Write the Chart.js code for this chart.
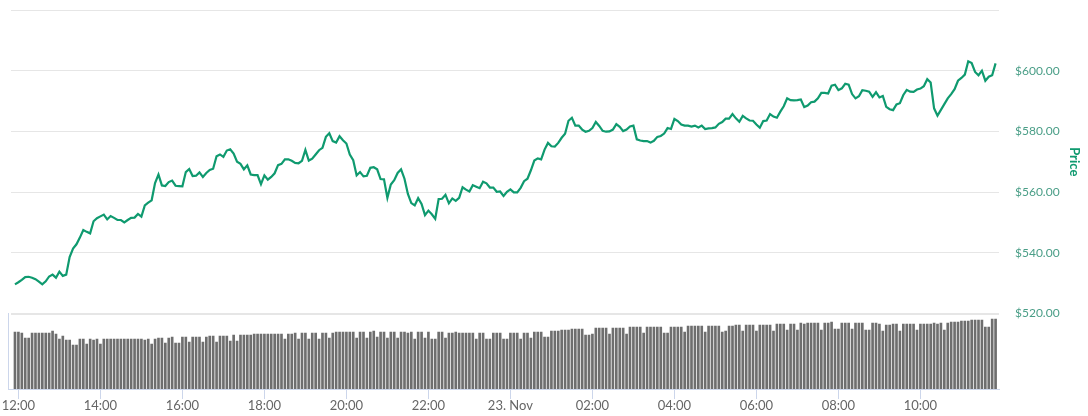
<!DOCTYPE html>
<html>
<head>
<meta charset="utf-8">
<title>Price</title>
<script src="https://cdn.jsdelivr.net/npm/chart.js@4"></script>
<style>
  html, body { margin: 0; padding: 0; background: #fff; }
  #wrap { position: relative; width: 1088px; height: 416px; overflow: hidden; }
  canvas { position: absolute; left: 0; }
  #price-chart { top: 0; }
  #volume-chart { top: 313px; }
</style>
</head>
<body>
<div id="wrap">
  <canvas id="price-chart" width="1088" height="322"></canvas>
  <canvas id="volume-chart" width="1088" height="103"></canvas>
</div>
<script>
'use strict';

// 5 minute samples, minutes counted from 12:00 on 22 Nov
const firstMinute = -5;
const stepMinutes = 5;

const priceValues = [
  529.6,530.3,531.1,532.0,532.1,531.8,531.3,530.5,529.6,530.6,532.2,532.8,531.8,533.8,532.4,532.8,
  538.6,541.4,542.8,545.0,547.5,546.9,546.4,550.4,551.4,552.0,552.6,551.0,552.1,551.5,550.8,550.8,
  550.0,550.8,551.5,551.6,552.8,551.9,555.6,556.5,557.3,563.0,565.8,562.2,562.0,563.3,563.8,562.1,562.0,
  561.9,566.6,567.6,565.3,565.4,566.5,565.0,566.3,567.3,567.7,571.8,572.4,571.6,573.7,574.1,572.7,
  570.0,569.3,567.5,568.8,565.8,565.6,565.6,562.6,565.5,564.1,565.0,566.2,568.9,569.3,570.8,570.8,
  570.3,569.6,569.5,570.3,573.9,570.4,571.0,572.4,573.8,574.6,578.2,579.4,576.8,576.3,578.4,577.1,
  576.0,572.4,570.5,565.5,566.6,565.2,565.4,568.0,568.2,567.5,564.3,564.2,558.1,562.5,563.9,566.3,
  567.5,564.4,559.4,556.4,555.6,558.0,556.1,552.4,553.9,552.7,551.2,557.7,557.8,559.1,556.3,557.9,
  557.1,558.1,561.6,560.8,560.2,562.3,561.8,561.3,563.4,562.9,561.5,561.5,560.1,560.2,558.7,560.1,560.9,
  559.9,559.9,561.4,563.6,564.4,567.2,570.4,571.1,570.8,574.0,576.2,575.1,575.0,576.2,577.9,579.2,
  583.5,584.5,581.9,581.9,580.6,579.9,580.2,581.1,583.1,581.8,580.2,579.9,580.0,580.6,582.4,581.5,
  580.1,580.6,581.6,581.9,577.4,577.0,576.8,576.8,576.3,576.9,578.2,578.5,579.3,581.1,580.8,584.1,
  583.4,582.3,581.9,581.9,581.6,581.9,581.3,581.9,580.8,581.0,581.1,581.3,582.5,583.1,584.2,584.2,
  585.7,584.3,583.2,585.1,584.3,583.6,583.5,582.3,581.2,583.4,583.6,585.7,584.9,584.5,586.5,588.3,
  590.9,590.3,590.2,590.3,590.5,588.0,588.5,589.6,589.8,590.9,592.7,592.7,592.5,595.1,595.4,593.6,
  594.2,595.7,595.4,592.3,590.9,591.6,593.6,593.4,593.1,591.4,592.9,591.2,591.7,588.1,587.3,587.0,
  588.9,589.3,592.0,593.7,593.1,593.0,593.8,594.1,594.9,597.2,596.1,587.6,585.2,587.1,589.0,590.9,
  592.3,593.9,596.7,597.6,598.7,603.1,602.5,599.6,598.5,600.0,596.7,598.0,598.5,602.4
];

// relative volume, the source picture has no scale for it
const volumeValues = [
  57,57,56,51,51,56,56,56,56,56,56,58,55,50,53,49,49,44,44,50,50,45,50,49,50,45,
  50,50,50,50,50,50,50,50,50,50,50,50,49,50,45,50,51,51,46,51,52,46,46,52,52,47,
  52,52,52,47,52,53,53,47,53,53,53,48,54,48,54,54,54,54,55,55,55,55,55,55,55,55,55,50,55,55,56,50,
  56,56,50,56,56,50,56,56,51,56,57,57,57,57,57,57,51,57,57,51,57,58,52,57,57,51,57,57,51,57,57,56,57,50,57,57,51,
  57,50,50,57,57,51,56,56,57,56,56,56,56,56,50,56,56,50,50,56,56,56,50,50,56,56,56,50,56,56,51,
  57,57,57,52,52,58,58,58,59,59,59,60,60,60,60,54,54,55,61,61,
  61,61,55,61,61,61,61,55,62,62,62,62,56,62,62,62,62,62,56,56,62,62,62,62,57,63,63,63,63,63,57,
  63,63,63,63,57,58,63,63,64,64,58,64,64,64,58,64,64,64,64,58,65,65,65,59,65,65,59,
  66,65,66,66,66,66,59,66,66,67,60,60,66,66,66,60,66,66,66,59,59,66,66,65,58,64,64,65,65,58,
  65,65,65,65,59,65,65,65,65,66,65,66,59,66,67,67,67,68,68,68,69,69,69,69,62,62,70,70
];

const priceTicks = [520, 540, 560, 580, 600, 620];
const priceTickLabels = ['$520.00', '$540.00', '$560.00', '$580.00', '$600.00', ''];
const timeTicks = [0, 120, 240, 360, 480, 600, 720, 840, 960, 1080, 1200, 1320];
const timeTickLabels = ['12:00', '14:00', '16:00', '18:00', '20:00', '22:00', '23. Nov', '02:00', '04:00', '06:00', '08:00', '10:00'];

const GREEN = '#0f9a6f';
const LABEL_GREEN = '#4a9e87';
const GRID = '#e6e6e6';
const AXIS = '#ccd6eb';
const FONT = "Lato, 'Open Sans', sans-serif";

const minuteOf = i => firstMinute + i * stepMinutes;
const setTicks = list => axis => { axis.ticks = list.map(value => ({ value })); };

/* Price line, upper panel */
new Chart(document.getElementById('price-chart'), {
  type: 'line',
  data: {
    datasets: [{
      label: 'Price',
      data: priceValues.map((y, i) => ({ x: minuteOf(i), y })),
      borderColor: GREEN,
      borderWidth: 2.2,
      pointRadius: 0,
      tension: 0,
      fill: false
    }]
  },
  options: {
    responsive: false,
    animation: false,
    layout: { padding: { left: 11, top: 10, right: 6, bottom: 8.5 } },
    plugins: { legend: { display: false }, tooltip: { enabled: false } },
    scales: {
      x: { type: 'linear', display: false, min: -10.8, max: 1435 },
      y: {
        position: 'right',
        min: 520,
        max: 620,
        afterBuildTicks: setTicks(priceTicks),
        afterFit: axis => {
          axis.width = 83;
          // the labels must not push the plot area in
          axis.paddingTop = 0;
          axis.paddingBottom = 0;
        },
        border: { display: false },
        grid: { color: GRID, drawTicks: false, lineWidth: c => (c.tick && c.tick.value === 520 ? 2 : 1) },
        ticks: {
          padding: 16,
          color: LABEL_GREEN,
          font: { family: FONT, size: 12 },
          callback: v => priceTickLabels[priceTicks.indexOf(v)]
        },
        title: {
          display: true,
          text: 'Price',
          color: GREEN,
          padding: 0,
          font: { family: FONT, size: 13, weight: 'bold' }
        }
      }
    }
  }
});

/* Volume bars, lower panel */
new Chart(document.getElementById('volume-chart'), {
  type: 'bar',
  data: {
    datasets: [{
      label: 'Volume',
      data: volumeValues.map((y, i) => ({ x: minuteOf(i), y })),
      backgroundColor: '#6e6e6e',
      barThickness: 2
    }]
  },
  options: {
    responsive: false,
    animation: false,
    layout: { padding: { right: 89, top: 0, bottom: 0, left: 0 } },
    plugins: { legend: { display: false }, tooltip: { enabled: false } },
    scales: {
      x: {
        type: 'linear',
        offset: false,
        min: -14.5,
        max: 1435,
        afterBuildTicks: setTicks(timeTicks),
        afterFit: axis => { axis.height = 27; },
        border: { color: AXIS },
        grid: { offset: false, color: AXIS, drawOnChartArea: false, tickLength: 10 },
        ticks: {
          padding: -1,
          maxRotation: 0,
          autoSkip: false,
          color: '#666666',
          font: { family: FONT, size: 13 },
          callback: v => timeTickLabels[timeTicks.indexOf(v)]
        }
      },
      y: {
        min: 0,
        max: 76,
        afterFit: axis => { axis.width = 8.5; },
        border: { color: AXIS },
        grid: { display: false },
        ticks: { display: false }
      }
    }
  }
});
</script>
</body>
</html>
